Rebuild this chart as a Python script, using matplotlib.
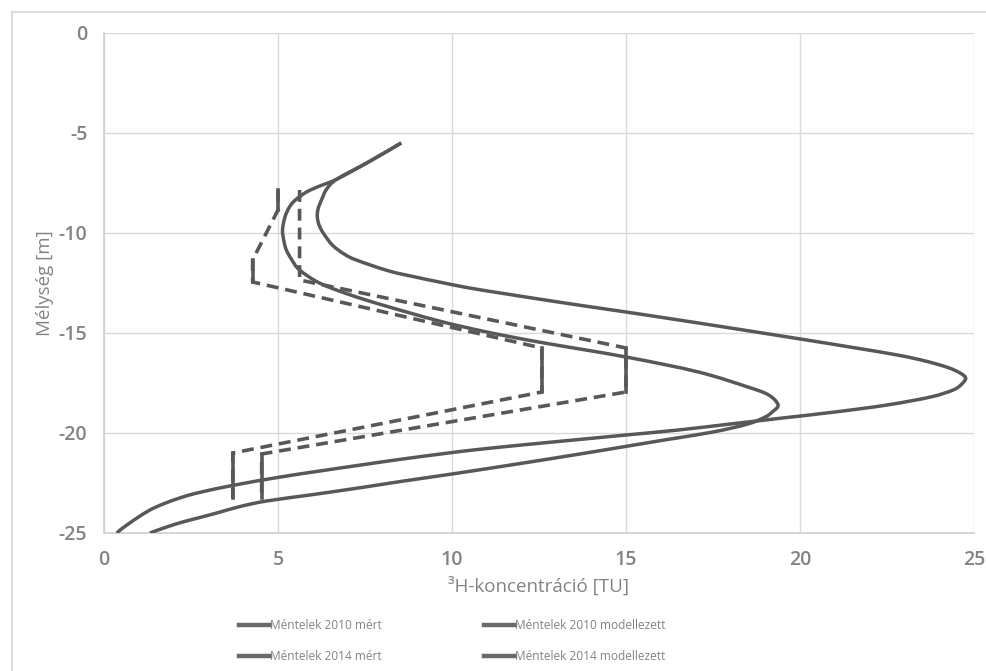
import matplotlib
matplotlib.use("Agg")
import matplotlib.pyplot as plt
import numpy as np
from matplotlib.lines import Line2D
from matplotlib.path import Path
from matplotlib.patches import PathPatch

# ---- data -----------------------------------------------------------------
# Modelled 3H profiles (concentration [TU], depth [m])
mod2010_conc = [8.54, 7.6, 6.7, 6.4, 6.25, 6.15, 6.13, 6.18, 6.3, 6.56, 6.9, 7.25,
                8.19, 9.0, 9.63, 10.5, 11.5, 12.49, 13.7, 15.0, 17.08, 19.94, 21.5,
                22.8, 23.6, 24.24, 24.6, 24.76, 24.65, 24.4, 23.75, 22.5, 21.0,
                19.5, 18.0, 16.5, 15.0, 13.5, 12.0, 10.77, 9.9, 8.5, 7.5, 6.2,
                5.0, 3.7, 2.8, 2.26, 1.7, 1.32, 0.95, 0.74, 0.5, 0.37]
mod2010_depth = [-5.5, -6.45, -7.3, -7.8, -8.35, -8.8, -9.2, -9.6, -10.0, -10.6,
                 -11.05, -11.35, -11.9, -12.22, -12.45, -12.75, -13.03, -13.3,
                 -13.62, -13.95, -14.5, -15.28, -15.72, -16.1, -16.4, -16.72,
                 -17.0, -17.25, -17.55, -17.85, -18.2, -18.6, -18.95, -19.25,
                 -19.55, -19.85, -20.1, -20.35, -20.6, -20.82, -21.0, -21.32,
                 -21.57, -21.9, -22.22, -22.62, -22.95, -23.2, -23.55, -23.85,
                 -24.25, -24.5, -24.8, -25.0]

mod2014_conc = [8.54, 7.6, 6.7, 6.2, 5.82, 5.5, 5.33, 5.2, 5.13, 5.17, 5.24, 5.4,
                5.62, 6.19, 7.0, 8.0, 9.63, 11.0, 12.49, 15.0, 17.08, 18.5, 19.1,
                19.37, 19.2, 19.0, 18.5, 17.5, 16.1, 14.2, 12.78, 11.5, 10.0, 8.5,
                7.5, 6.0, 4.67, 3.9, 3.24, 2.7, 2.26, 1.8, 1.32]
mod2014_depth = [-5.5, -6.45, -7.3, -7.65, -7.95, -8.35, -8.7, -9.2, -9.85, -10.4,
                 -10.85, -11.35, -11.85, -12.5, -13.05, -13.6, -14.4, -14.95,
                 -15.45, -16.2, -16.95, -17.7, -18.1, -18.6, -18.95, -19.2, -19.55,
                 -19.95, -20.35, -20.9, -21.3, -21.65, -22.05, -22.43, -22.7,
                 -23.08, -23.4, -23.68, -24.0, -24.25, -24.45, -24.7, -25.0]

# Measured profiles: one value per sampled depth interval
meas2010_conc = [5.62, 15.0, 4.53]
meas2010_top = [-7.85, -15.75, -21.05]
meas2010_bottom = [-12.35, -17.95, -23.25]

meas2014_conc = [5.0, 4.27, 12.58, 3.7]
meas2014_top = [-7.85, -11.35, -15.75, -21.0]
meas2014_bottom = [-8.85, -12.45, -17.95, -23.25]

x_ticks = [0, 5, 10, 15, 20, 25]
y_ticks = [0, -5, -10, -15, -20, -25]

labels = ["Méntelek 2010 mért", "Méntelek 2014 mért",
          "Méntelek 2010 modellezett", "Méntelek 2014 modellezett"]

# ---- style ----------------------------------------------------------------
plt.rcParams["font.family"] = ["Open Sans", "DejaVu Sans"]
plt.rcParams["axes.unicode_minus"] = False
LINE = "#585858"
TEXT = "#838383"
GRID = "#dadada"

fig = plt.figure(figsize=(9.87, 6.71), dpi=100)
fig.patch.set_facecolor("white")

# chart-area frame (left and top edges)
fig.add_artist(Line2D([12 / 987, 12 / 987], [0, 1 - 12 / 671], color="#d4d4d4", lw=1.2))
fig.add_artist(Line2D([12 / 987, 1], [1 - 12 / 671, 1 - 12 / 671], color="#d4d4d4", lw=1.2))

ax = fig.add_axes([104 / 987, 1 - 533 / 671, (974 - 104) / 987, (533 - 33) / 671])
ax.set_xlim(0, 25)
ax.set_ylim(-25, 0)
ax.set_xticks(x_ticks)
ax.set_yticks(y_ticks)
ax.grid(True, color=GRID, lw=1.0)
ax.set_axisbelow(True)
for side in ("top", "right"):
    ax.spines[side].set_visible(False)
for side in ("left", "bottom"):
    ax.spines[side].set_color("#cfcfcf")
    ax.spines[side].set_linewidth(1.2)
ax.tick_params(length=0, colors=TEXT, labelsize=14, pad=12)
for lab in ax.get_xticklabels() + ax.get_yticklabels():
    lab.set_fontweight("semibold")


def measured_path(conc, top, bottom):
    xs, ys = [], []
    for c, t, b in zip(conc, top, bottom):
        xs += [c, c]
        ys += [t, b]
    return xs, ys


def smoothed_line(xs, ys):
    """Smoothed scatter line (cubic Bezier segments through every point)."""
    pts = np.column_stack([xs, ys]).astype(float)
    n = len(pts)
    verts = [pts[0]]
    codes = [Path.MOVETO]
    for i in range(n - 1):
        p0 = pts[i - 1] if i > 0 else pts[i]
        p1, p2 = pts[i], pts[i + 1]
        p3 = pts[i + 2] if i + 2 < n else pts[i + 1]
        verts += [p1 + (p2 - p0) / 6.0, p2 - (p3 - p1) / 6.0, p2]
        codes += [Path.CURVE4] * 3
    return Path(verts, codes)


# measured: dashed connectors, interval segments as vertical bars
for conc, top, bottom, vstyle in ((meas2010_conc, meas2010_top, meas2010_bottom,
                                   ["--", "-", "-"]),
                                  (meas2014_conc, meas2014_top, meas2014_bottom,
                                   ["-", "-", "-", "-"])):
    xs, ys = measured_path(conc, top, bottom)
    ax.plot(xs, ys, color=LINE, lw=2.6, ls=(0, (3.3, 1.9)), zorder=3,
            dash_capstyle="butt")
    for c, t, b, st in zip(conc, top, bottom, vstyle):
        if st == "-":
            ax.plot([c, c], [t, b], color=LINE, lw=2.6, zorder=3,
                    solid_capstyle="projecting")

# modelled: smoothed lines
for xs, ys in ((mod2010_conc, mod2010_depth), (mod2014_conc, mod2014_depth)):
    ax.add_patch(PathPatch(smoothed_line(xs, ys), facecolor="none",
                           edgecolor=LINE, lw=2.5, zorder=4, joinstyle="round"))

ax.set_xlabel("³H-koncentráció [TU]", color=TEXT, fontsize=13.5, labelpad=5)
ax.set_ylabel("Mélység [m]", color=TEXT, fontsize=13.5, labelpad=3)

handles = [Line2D([], [], color="#6a6a6a", lw=3.2) for _ in labels]
fig.legend(handles, labels, loc="center", bbox_to_anchor=(452 / 987, 1 - 641 / 671),
           ncol=2, frameon=False, fontsize=8.6, handlelength=2.6,
           handletextpad=0.0, columnspacing=8.6, labelspacing=1.5,
           labelcolor=TEXT)

fig.savefig("out.png", dpi=100, facecolor="white")
